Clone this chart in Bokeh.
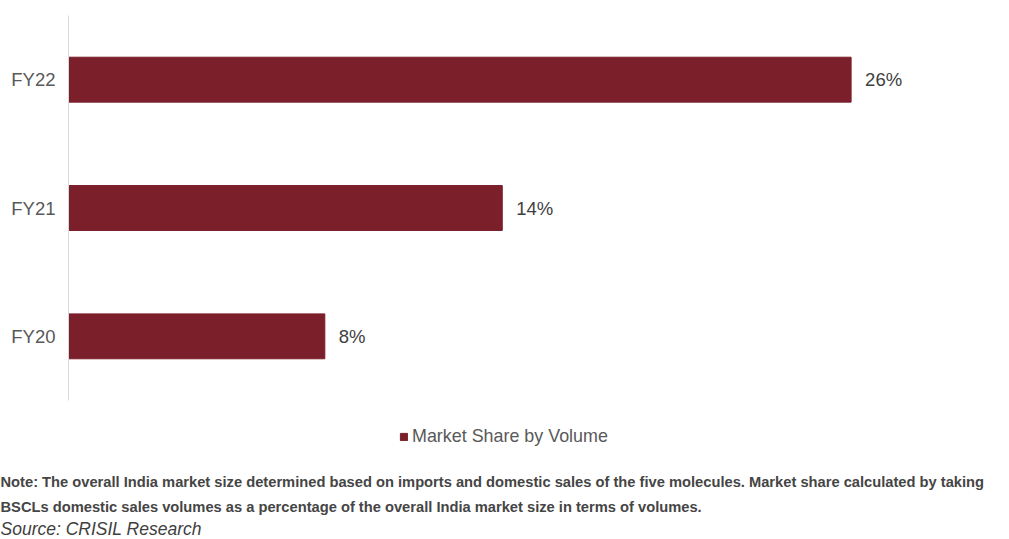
from bokeh.plotting import figure
from bokeh.models import Label, Legend, LegendItem, ColumnDataSource, FactorRange, Range1d
from bokeh.core.properties import value
from bokeh.embed import file_html
from bokeh.resources import INLINE

categories = ["FY20", "FY21", "FY22"]
values = [8.45, 14.3, 25.8]
value_labels = ["8%", "14%", "26%"]
series_name = "Market Share by Volume"
note_line1 = ("Note: The overall India market size determined based on imports and domestic sales of the five "
              "molecules. Market share calculated by taking")
note_line2 = "BSCLs domestic sales volumes as a percentage of the overall India market size in terms of volumes."
source_text = "Source: CRISIL Research"

BAR = "#7B1F2B"
FONT = "Liberation Sans"

src = ColumnDataSource(dict(cat=categories, val=values, lbl=value_labels))

p = figure(width=993, height=410, y_range=FactorRange(*categories), x_range=Range1d(0, 30),
           output_backend="svg", toolbar_location=None, x_axis_location=None,
           min_border_left=68, min_border_right=15, min_border_top=15, min_border_bottom=10)
p.outline_line_color = None
p.grid.visible = False

ax = p.yaxis[0]
ax.axis_line_color = "#d9d9d9"
ax.axis_line_width = 1
ax.major_tick_line_color = None
ax.minor_tick_line_color = None
ax.major_tick_out = 0
ax.major_tick_in = 0
ax.major_label_standoff = 13
ax.major_label_text_font = FONT
ax.major_label_text_font_size = "18.5px"
ax.major_label_text_color = "#595959"

r = p.hbar(y="cat", right="val", left=0, height=0.35, source=src,
           fill_color=BAR, line_color=BAR)

p.text(x="val", y="cat", text="lbl", source=src, x_offset=14, text_baseline="middle",
       text_font=value(FONT), text_font_size="18.5px", text_color="#404040")

# lower panel: legend, note and source (separate root so its frame spans the full width)
BH = 128
q = figure(width=993, height=BH, x_range=Range1d(0, 1), y_range=Range1d(0, 1),
           output_backend="svg", toolbar_location=None, x_axis_location=None, y_axis_location=None,
           min_border_left=0, min_border_right=0, min_border_top=0, min_border_bottom=0)
q.outline_line_color = None
q.grid.visible = False
# legend key: same bar style, its data kept outside the visible range
key_src = ColumnDataSource(dict(cat=[-10.0], val=[-10.0]))
kr = q.hbar(y="cat", right="val", left=-11.0, height=0.1, source=key_src,
            fill_color=BAR, line_color=BAR)

legend = Legend(items=[LegendItem(label=series_name, renderers=[kr])], location=(399, BH - 37),
                orientation="horizontal", glyph_width=9, glyph_height=9, label_standoff=4,
                padding=0, margin=0, spacing=0, border_line_color=None, background_fill_alpha=0,
                label_text_font=FONT, label_text_font_size="17.9px", label_text_color="#595959")
q.add_layout(legend)

for txt, y in [(note_line1, BH - 71), (note_line2, BH - 96)]:
    q.add_layout(Label(x=0, y=y, x_units="screen", y_units="screen", text=txt,
                       text_baseline="middle", text_align="left", text_font=FONT,
                       text_font_style="bold", text_font_size="14.7px", text_color="#454545"))

q.add_layout(Label(x=0, y=BH - 118, x_units="screen", y_units="screen", text=source_text,
                   text_baseline="middle", text_align="left", text_font=FONT,
                   text_font_style="italic", text_font_size="17.5px", text_color="#404040"))

open("out.html", "w").write(file_html([p, q], INLINE))
